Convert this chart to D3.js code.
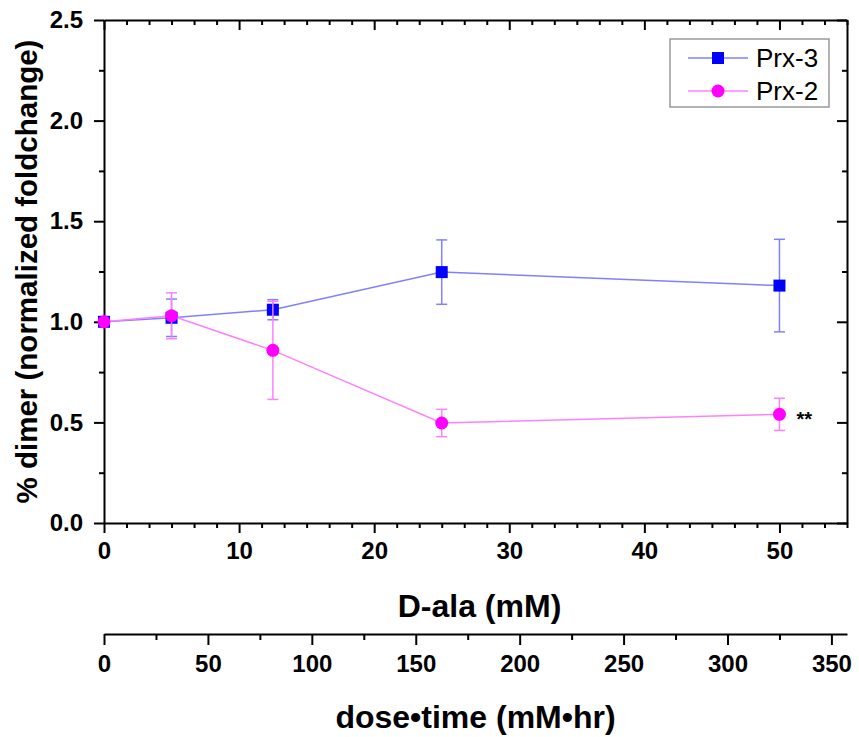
<!DOCTYPE html>
<html>
<head>
<meta charset="utf-8">
<script src="https://cdn.jsdelivr.net/npm/d3@7"></script>
<style>
  body { margin: 0; background: #fff; }
  svg text { font-family: "Liberation Sans", Arial, sans-serif; }
  .tick text { font-weight: bold; }
</style>
</head>
<body>
<div id="chart"></div>
<script>
// D-ala dose (mM) and dimer fold change
const doses = [0, 5, 12.5, 25, 50];
const prx3 = [1.0, 1.02, 1.06, 1.247, 1.18];
const prx3Err = [0, 0.093, 0.05, 0.16, 0.23];
const prx2 = [1.0, 1.03, 0.858, 0.497, 0.54];
const prx2Err = [0, 0.114, 0.244, 0.068, 0.08];

const xMajor = [0, 10, 20, 30, 40, 50];
const yMajor = [0, 0.5, 1.0, 1.5, 2.0, 2.5];
const timeMajor = [0, 50, 100, 150, 200, 250, 300, 350];
const hours = 6.5; // dose*time axis = dose * 6.5 hr

const W = 859, H = 737;
const plotLeft = 104, plotRight = 847, plotTop = 20, plotBottom = 523;
const axis2Y = 634;

const svg = d3.select('#chart').append('svg')
    .attr('width', W)
    .attr('height', H);

const x = d3.scaleLinear().domain([0, 55]).range([plotLeft, plotRight]);
const y = d3.scaleLinear().domain([0, 2.5]).range([plotBottom, plotTop]);
const x2 = d3.scaleLinear().domain([0, 55 * hours]).range([plotLeft, plotRight]);

const xMinor = d3.range(0, 55.001, 10 / 6).filter(v => Math.abs(v / 10 - Math.round(v / 10)) > 0.01);
const yMinor = d3.range(0.25, 2.5, 0.5);
const timeMinor = d3.range(25, 355, 50);

function styleAxis(g) {
    g.selectAll('path.domain').attr('stroke', '#000').attr('stroke-width', 2);
    g.selectAll('.tick line').attr('stroke', '#000').attr('stroke-width', 2);
}

// bottom axis
const gx = svg.append('g').attr('transform', `translate(0,${plotBottom})`);
gx.call(d3.axisBottom(x).tickValues(xMajor).tickSize(10).tickSizeOuter(0).tickPadding(9));
gx.append('g').call(d3.axisBottom(x).tickValues(xMinor).tickSize(5).tickFormat(''))
    .select('path.domain').remove();
styleAxis(gx);
gx.selectAll('.tick text').attr('font-size', 24).attr('fill', '#000');

// top axis (ticks inward)
const gxt = svg.append('g').attr('transform', `translate(0,${plotTop})`);
gxt.call(d3.axisTop(x).tickValues(xMajor).tickSize(-10).tickSizeOuter(0).tickFormat(''));
gxt.append('g').call(d3.axisTop(x).tickValues(xMinor).tickSize(-5).tickFormat(''))
    .select('path.domain').remove();
styleAxis(gxt);

// left axis
const gy = svg.append('g').attr('transform', `translate(${plotLeft},0)`);
gy.call(d3.axisLeft(y).tickValues(yMajor).tickSize(10).tickSizeOuter(0).tickPadding(11)
    .tickFormat(d3.format('.1f')));
gy.append('g').call(d3.axisLeft(y).tickValues(yMinor).tickSize(5).tickFormat(''))
    .select('path.domain').remove();
styleAxis(gy);
gy.selectAll('.tick text').attr('font-size', 24).attr('fill', '#000');

// right axis (ticks inward)
const gyr = svg.append('g').attr('transform', `translate(${plotRight},0)`);
gyr.call(d3.axisRight(y).tickValues(yMajor).tickSize(-10).tickSizeOuter(0).tickFormat(''));
gyr.append('g').call(d3.axisRight(y).tickValues(yMinor).tickSize(-5).tickFormat(''))
    .select('path.domain').remove();
styleAxis(gyr);

// second x axis: dose*time
const gx2 = svg.append('g').attr('transform', `translate(0,${axis2Y})`);
gx2.call(d3.axisBottom(x2).tickValues(timeMajor).tickSize(11).tickSizeOuter(0).tickPadding(10));
gx2.append('g').call(d3.axisBottom(x2).tickValues(timeMinor).tickSize(6).tickFormat(''))
    .select('path.domain').remove();
styleAxis(gx2);
gx2.selectAll('.tick text').attr('font-size', 24).attr('fill', '#000');

// axis titles
svg.append('text')
    .attr('x', (plotLeft + plotRight) / 2 + 4).attr('y', 617)
    .attr('text-anchor', 'middle')
    .attr('font-size', 32).attr('font-weight', 'bold')
    .text('D-ala (mM)');

svg.append('text')
    .attr('x', (plotLeft + plotRight) / 2).attr('y', 728)
    .attr('text-anchor', 'middle')
    .attr('font-size', 32).attr('font-weight', 'bold')
    .text('dose\u2022time (mM\u2022hr)');

svg.append('text')
    .attr('transform', `translate(37,${(plotTop + plotBottom) / 2}) rotate(-90)`)
    .attr('text-anchor', 'middle')
    .attr('font-size', 29.5).attr('font-weight', 'bold')
    .text('% dimer (normalized foldchange)');

// series
const series = [
    { name: 'Prx-3', values: prx3, err: prx3Err, color: '#0000ff', light: '#8080ff', shape: 'square' },
    { name: 'Prx-2', values: prx2, err: prx2Err, color: '#ff00ff', light: '#ff80ff', shape: 'circle' }
];

const line = d3.line().x(d => x(d.dose)).y(d => y(d.v));

function drawMarker(g, s, cx, cy) {
    if (s.shape === 'square') {
        g.append('rect')
            .attr('x', cx - 6).attr('y', cy - 6)
            .attr('width', 12).attr('height', 12)
            .attr('fill', s.color);
    } else {
        g.append('circle')
            .attr('cx', cx).attr('cy', cy).attr('r', 6.5)
            .attr('fill', s.color);
    }
}

series.forEach(s => {
    const pts = doses.map((d, i) => ({ dose: d, v: s.values[i], e: s.err[i] }));
    const g = svg.append('g');

    g.append('path')
        .datum(pts)
        .attr('d', line)
        .attr('fill', 'none')
        .attr('stroke', s.light)
        .attr('stroke-width', 1.5);

    // error bars
    pts.filter(p => p.e > 0).forEach(p => {
        const cx = x(p.dose);
        const y0 = y(p.v - p.e), y1 = y(p.v + p.e);
        g.append('line').attr('x1', cx).attr('x2', cx).attr('y1', y0).attr('y2', y1)
            .attr('stroke', s.light).attr('stroke-width', 1.5);
        [y0, y1].forEach(yy => {
            g.append('line').attr('x1', cx - 5.5).attr('x2', cx + 5.5).attr('y1', yy).attr('y2', yy)
                .attr('stroke', s.light).attr('stroke-width', 1.5);
        });
    });

    pts.forEach(p => drawMarker(g, s, x(p.dose), y(p.v)));
});

// significance mark
svg.append('text')
    .attr('x', x(50) + 17).attr('y', y(prx2[4]) + 12)
    .attr('font-size', 20).attr('font-weight', 'bold')
    .text('**');

// legend
const lg = svg.append('g');
lg.append('rect')
    .attr('x', 670).attr('y', 39)
    .attr('width', 159).attr('height', 68)
    .attr('fill', '#fff').attr('stroke', '#999').attr('stroke-width', 1.5);

series.forEach((s, i) => {
    const ly = 58 + i * 33;
    lg.append('line').attr('x1', 688).attr('x2', 748).attr('y1', ly).attr('y2', ly)
        .attr('stroke', s.light).attr('stroke-width', 1.5);
    drawMarker(lg, s, 718, ly);
    lg.append('text')
        .attr('x', 756).attr('y', ly + 9)
        .attr('font-size', 26)
        .text(s.name);
});
</script>
</body>
</html>
